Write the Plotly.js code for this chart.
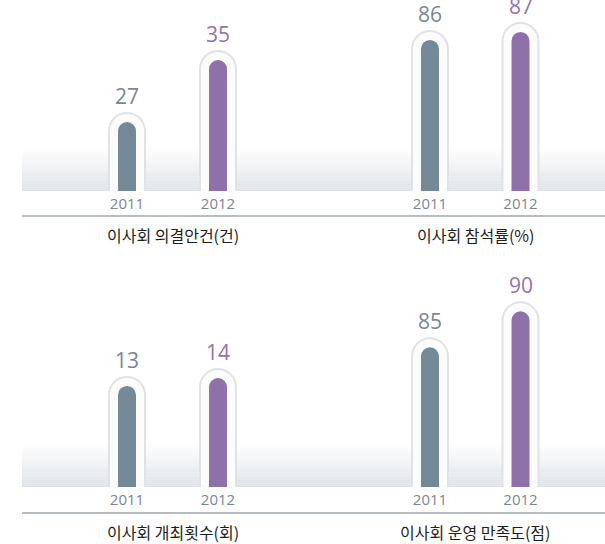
<!DOCTYPE html>
<html>
<head>
<meta charset="utf-8">
<script src="https://cdn.plot.ly/plotly-3.0.1.min.js"></script>
<style>
html,body{margin:0;padding:0;background:#fff;}
#chart{width:605px;height:544px;}
</style>
</head>
<body>
<div id="chart"></div>
<script>
// ---- data ----
const years = ['2011', '2012'];
const agendaItems = [27, 35];      // 이사회 의결안건(건)
const attendanceRate = [86, 87];   // 이사회 참석률(%)
const meetingCount = [13, 14];     // 이사회 개최횟수(회)
const satisfaction = [85, 90];     // 이사회 운영 만족도(점)
const panelTitles = ['이사회 의결안건(건)', '이사회 참석률(%)', '이사회 개최횟수(회)', '이사회 운영 만족도(점)'];

// ---- styling ----
const W = 605, H = 544;
const barColors = ['#748a96', '#8e71a8'];
const labelColors = ['#7d8595', '#9274ab'];
const numFont = '"Open Sans", "Noto Sans", sans-serif';
const krFont = '"Noto Sans CJK KR", "Noto Sans", sans-serif';

const px2paperY = py => 1 - py / H;
const px2paperX = px => px / W;

// panel geometry (pixels)
const cols = [[81.5, 263.5], [384.75, 565.75]];
const rows = [[0, 191], [270, 487]];
const panels = [
  {vals: agendaItems, col: 0, row: 0, range: [18.1, 42.75]},
  {vals: attendanceRate, col: 1, row: 0, range: [67.1, 91.0]},
  {vals: meetingCount, col: 0, row: 1, range: [0, 27.9]},
  {vals: satisfaction, col: 1, row: 1, range: [65.6, 95.74]}
];

const traces = [];
const layout = {
  width: W, height: H,
  margin: {l: 0, r: 0, t: 0, b: 0},
  paper_bgcolor: '#ffffff', plot_bgcolor: 'rgba(0,0,0,0)',
  barmode: 'overlay',
  showlegend: false,
  shapes: [], annotations: []
};

// gradient bands + separator lines
rows.forEach((r, ri) => {
  const bandTop = r[1] - 43, bandBot = r[1];
  const N = 24;
  for (let i = 0; i < N; i++) {
    const t = (i + 1) / N;
    const c = [255 - (255 - 222) * t, 255 - (255 - 226) * t, 255 - (255 - 231) * t].map(Math.round);
    layout.shapes.push({
      type: 'rect', xref: 'paper', yref: 'paper', layer: 'below',
      x0: px2paperX(22), x1: 1,
      y0: px2paperY(bandTop + (bandBot - bandTop) * (i + 1) / N),
      y1: px2paperY(bandTop + (bandBot - bandTop) * i / N),
      fillcolor: `rgb(${c[0]},${c[1]},${c[2]})`, line: {width: 0}
    });
  }
  const ly = ri === 0 ? 216 : 513;
  layout.shapes.push({
    type: 'line', xref: 'paper', yref: 'paper', layer: 'below',
    x0: px2paperX(22), x1: 1, y0: px2paperY(ly), y1: px2paperY(ly),
    line: {color: '#9ea8b1', width: 1.5}
  });
});

let axisCount = 0;
const sfx = n => (n === 1 ? '' : String(n));

panels.forEach((p, i) => {
  const c = cols[p.col], r = rows[p.row];
  const pxPerUnitX = (c[1] - c[0]) / 2;
  const pxPerUnitY = (r[1] - r[0]) / (p.range[1] - p.range[0]);
  const capPad = 10 / pxPerUnitY;

  // three layers, each on its own (overlaid) subplot: outer capsule, inner capsule, value bar
  const layers = [
    {vals: p.vals.map(v => v + capPad), w: 38, colors: ['#e1e2e5', '#e1e2e5']},
    {vals: p.vals.map(v => v + capPad - 2 / pxPerUnitY), w: 34, colors: ['#fcfcfc', '#fcfcfc']},
    {vals: p.vals, w: 18, colors: barColors}
  ];
  let baseX = null, baseY = null;
  layers.forEach((L, li) => {
    axisCount += 1;
    const n = axisCount;
    const xr = 'x' + sfx(n), yr = 'y' + sfx(n);
    const xa = {
      type: 'category', range: [-0.5, 1.5], fixedrange: true, anchor: yr,
      showgrid: false, zeroline: false, showline: false, ticks: ''
    };
    const ya = {range: p.range, fixedrange: true, anchor: xr, visible: false,
      showgrid: false, zeroline: false};
    if (li === 0) {
      baseX = xr; baseY = yr;
      xa.domain = [px2paperX(c[0]), px2paperX(c[1])];
      xa.tickfont = {family: numFont, size: 15, color: '#7d8595'};
      xa.ticklabelstandoff = 2;
      ya.domain = [px2paperY(r[1]), px2paperY(r[0])];
    } else {
      xa.overlaying = baseX; xa.visible = false;
      ya.overlaying = baseY;
    }
    layout['xaxis' + sfx(n)] = xa;
    layout['yaxis' + sfx(n)] = ya;
    traces.push({
      type: 'bar', x: years, y: L.vals, xaxis: xr, yaxis: yr,
      width: L.w / pxPerUnitX,
      marker: {color: L.colors, cornerradius: '50%', line: {width: 0}},
      hoverinfo: li === 2 ? 'x+y' : 'skip'
    });
  });

  p.vals.forEach((v, k) => {
    layout.annotations.push({
      xref: baseX, yref: baseY, x: k, y: v + capPad,
      text: String(v), showarrow: false, yanchor: 'bottom', yshift: 0,
      font: {family: numFont, size: 21, color: labelColors[k]}
    });
  });

  layout.annotations.push({
    xref: 'paper', yref: 'paper',
    x: px2paperX((c[0] + c[1]) / 2), y: px2paperY(p.row === 0 ? 235 : 532),
    text: panelTitles[i], showarrow: false, xanchor: 'center', yanchor: 'middle',
    font: {family: krFont, size: 16, color: '#1e1e1e'}
  });
});

Plotly.newPlot('chart', traces, layout, {displayModeBar: false, staticPlot: true});
</script>
</body>
</html>
